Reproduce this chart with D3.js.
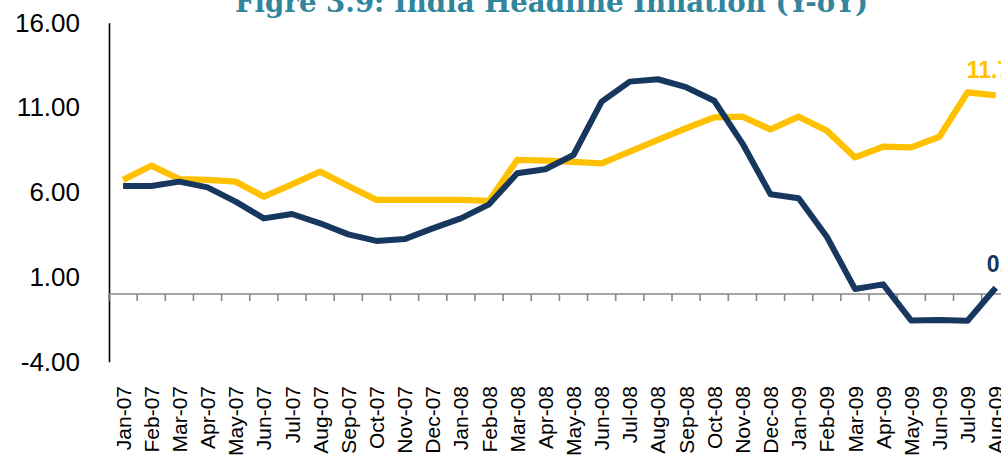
<!DOCTYPE html>
<html>
<head>
<meta charset="utf-8">
<script src="https://cdn.jsdelivr.net/npm/d3@7"></script>
<style>
  body { margin: 0; background: #fff; }
  svg { display: block; }
</style>
</head>
<body>
<svg id="chart" width="1001" height="458"></svg>
<script>
// months on the x axis
var months = ["Jan-07", "Feb-07", "Mar-07", "Apr-07", "May-07", "Jun-07", "Jul-07", "Aug-07",
    "Sep-07", "Oct-07", "Nov-07", "Dec-07", "Jan-08", "Feb-08", "Mar-08", "Apr-08",
    "May-08", "Jun-08", "Jul-08", "Aug-08", "Sep-08", "Oct-08", "Nov-08", "Dec-08",
    "Jan-09", "Feb-09", "Mar-09", "Apr-09", "May-09", "Jun-09", "Jul-09", "Aug-09"];

// WPI (navy)
var wpi = [6.37, 6.37, 6.63, 6.29, 5.45, 4.46, 4.72, 4.17, 3.52, 3.13, 3.24, 3.87,
    4.46, 5.29, 7.12, 7.36, 8.2, 11.35, 12.53, 12.67, 12.2, 11.4, 8.89, 5.88,
    5.65, 3.38, 0.3, 0.57, -1.57, -1.53, -1.58, 0.37];

// CPI-IW (yellow)
var cpi = [6.73, 7.57, 6.78, 6.73, 6.63, 5.74, 6.47, 7.22, 6.37, 5.55, 5.55, 5.55,
    5.55, 5.49, 7.91, 7.87, 7.79, 7.71, 8.4, 9.09, 9.78, 10.42, 10.46, 9.71,
    10.46, 9.64, 8.06, 8.69, 8.65, 9.28, 11.9, 11.72];

var yTicks = [-4, 1, 6, 11, 16];

var title = "Figre 3.9: India Headline Inflation (Y-oY)";

var svg = d3.select("#chart");

var left = 109,
    step = 28.15;

var x = d3.scaleBand().domain(months).range([left, left + step * months.length]).padding(0);
var y = d3.scaleLinear().domain([-4, 16]).range([361.8, 22.8]);

// title (top is cut off in the original)
svg.append("text")
    .attr("x", 235)
    .attr("y", 12)
    .attr("textLength", 633)
    .attr("lengthAdjust", "spacingAndGlyphs")
    .style("font-family", "'DejaVu Serif', serif")
    .style("font-weight", "bold")
    .style("font-size", "27px")
    .style("fill", "#31859C")
    .text(title);

// y axis
var yAxis = d3.axisLeft(y)
    .tickValues(yTicks)
    .tickSize(0)
    .tickPadding(29)
    .tickFormat(function(d) { return d.toFixed(2); });

var gy = svg.append("g")
    .attr("transform", "translate(" + left + ",0)")
    .call(yAxis);
gy.select(".domain").attr("stroke", "#000").attr("stroke-width", 1.6);
gy.selectAll("text")
    .style("font-family", "'Liberation Sans', Arial, sans-serif")
    .style("font-size", "26px")
    .style("fill", "#000");

// x axis at zero, ticks on category boundaries
var x0 = y(0);
var gx = svg.append("g").attr("class", "axis--x");
gx.append("line")
    .attr("x1", left).attr("x2", x.range()[1])
    .attr("y1", x0).attr("y2", x0)
    .attr("stroke", "#878787").attr("stroke-width", 1.6);
gx.selectAll(".tick")
    .data(months)
    .enter().append("line")
    .attr("x1", function(d) { return x(d); })
    .attr("x2", function(d) { return x(d); })
    .attr("y1", x0).attr("y2", x0 + 7)
    .attr("stroke", "#878787").attr("stroke-width", 1.6);

// month labels, rotated
svg.append("g").selectAll("text")
    .data(months)
    .enter().append("text")
    .attr("transform", function(d) {
        return "translate(" + (x(d) + x.bandwidth() / 2) + ",386) rotate(-90)";
    })
    .attr("dy", "0.36em")
    .attr("text-anchor", "end")
    .style("font-family", "'Liberation Sans', Arial, sans-serif")
    .style("font-size", "21px")
    .style("fill", "#000")
    .text(function(d) { return d; });

var line = d3.line()
    .x(function(d, i) { return x(months[i]) + x.bandwidth() / 2; })
    .y(function(d) { return y(d); });

svg.append("path")
    .datum(cpi)
    .attr("d", line)
    .attr("fill", "none")
    .attr("stroke", "#FFC000")
    .attr("stroke-width", 6.3)
    .attr("stroke-linejoin", "round");

svg.append("path")
    .datum(wpi)
    .attr("d", line)
    .attr("fill", "none")
    .attr("stroke", "#17375E")
    .attr("stroke-width", 6)
    .attr("stroke-linejoin", "round");

// labels on the last point (cut off at the right edge)
var last = months.length - 1,
    lx = x(months[last]) + x.bandwidth() / 2;

svg.append("text")
    .attr("x", lx - 29)
    .attr("y", y(cpi[last]) - 17)
    .style("font-family", "'Liberation Sans', Arial, sans-serif")
    .style("font-weight", "bold")
    .style("font-size", "23px")
    .style("fill", "#FFC000")
    .text(cpi[last].toFixed(2));

svg.append("text")
    .attr("x", lx - 9)
    .attr("y", y(wpi[last]) - 16)
    .style("font-family", "'Liberation Sans', Arial, sans-serif")
    .style("font-weight", "bold")
    .style("font-size", "23px")
    .style("fill", "#17375E")
    .text(wpi[last].toFixed(2));
</script>
</body>
</html>
